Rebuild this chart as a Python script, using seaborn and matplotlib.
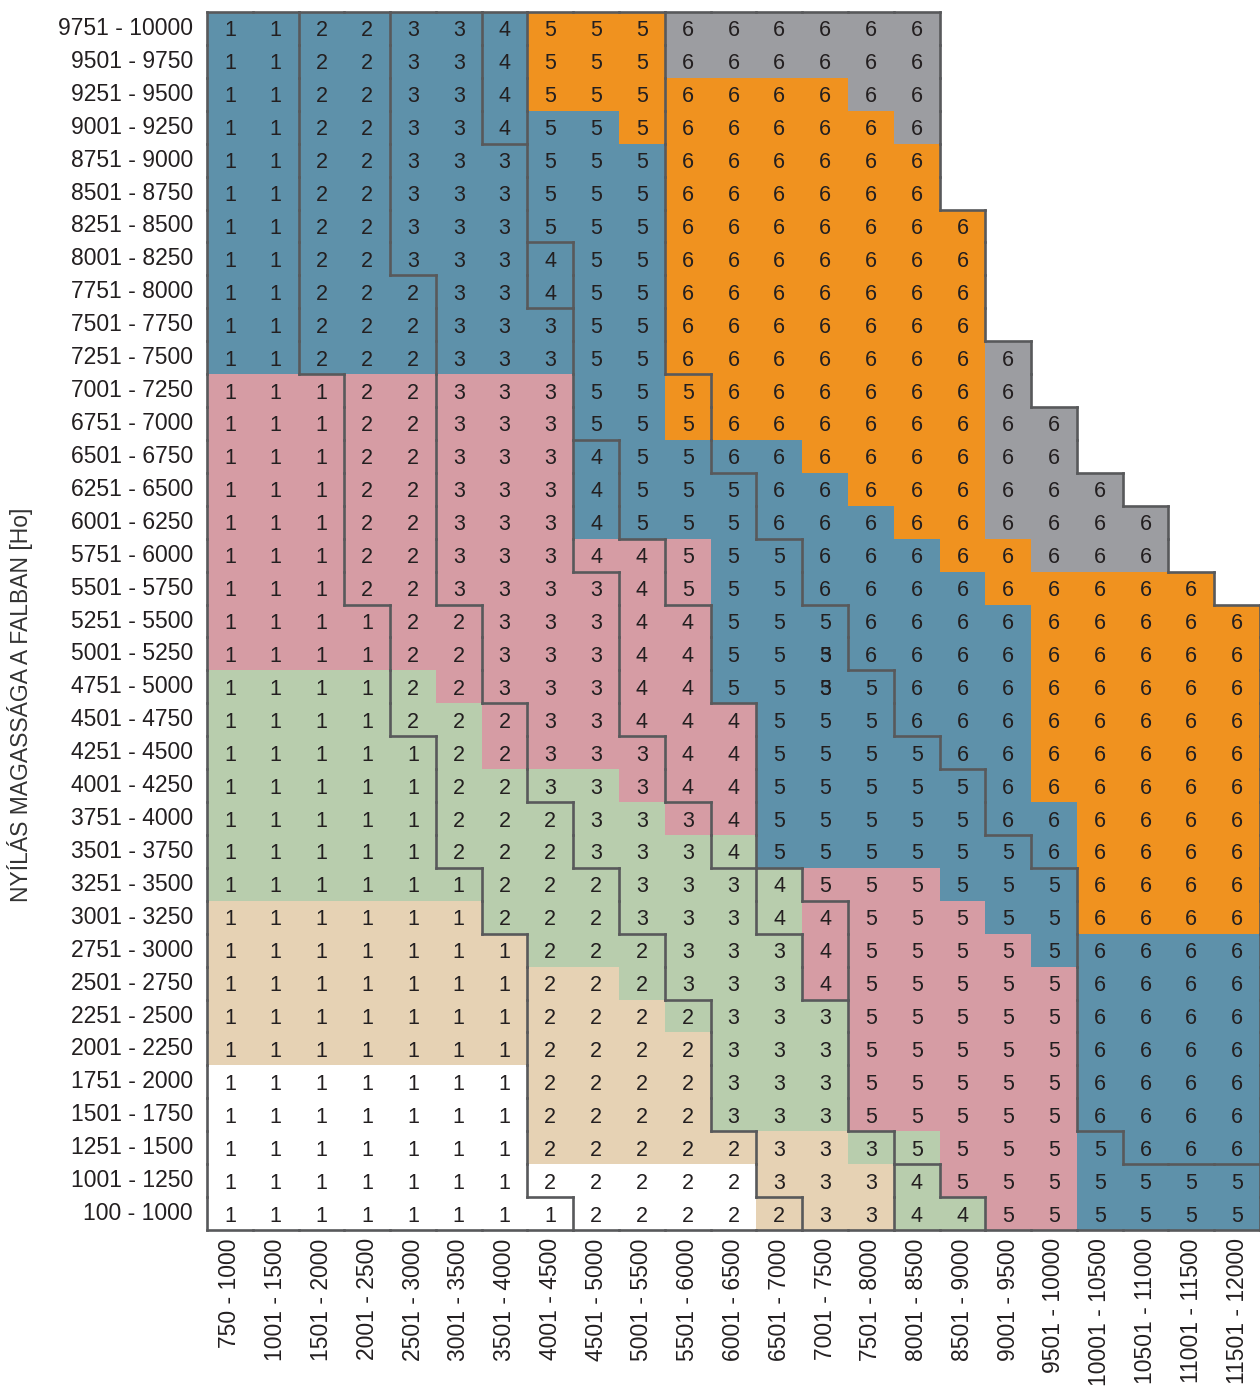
import numpy as np
import pandas as pd
import matplotlib
matplotlib.use("Agg")
import matplotlib.pyplot as plt
import seaborn as sns
from matplotlib.colors import ListedColormap
from matplotlib.collections import LineCollection

# ---------------- data ----------------
row_labels = [
    "9751 - 10000", "9501 - 9750", "9251 - 9500", "9001 - 9250", "8751 - 9000",
    "8501 - 8750", "8251 - 8500", "8001 - 8250", "7751 - 8000", "7501 - 7750",
    "7251 - 7500", "7001 - 7250", "6751 - 7000", "6501 - 6750", "6251 - 6500",
    "6001 - 6250", "5751 - 6000", "5501 - 5750", "5251 - 5500", "5001 - 5250",
    "4751 - 5000", "4501 - 4750", "4251 - 4500", "4001 - 4250", "3751 - 4000",
    "3501 - 3750", "3251 - 3500", "3001 - 3250", "2751 - 3000", "2501 - 2750",
    "2251 - 2500", "2001 - 2250", "1751 - 2000", "1501 - 1750", "1251 - 1500",
    "1001 - 1250", "100 - 1000",
]
col_labels = [
    "750 - 1000", "1001 - 1500", "1501 - 2000", "2001 - 2500", "2501 - 3000",
    "3001 - 3500", "3501 - 4000", "4001 - 4500", "4501 - 5000", "5001 - 5500",
    "5501 - 6000", "6001 - 6500", "6501 - 7000", "7001 - 7500", "7501 - 8000",
    "8001 - 8500", "8501 - 9000", "9001 - 9500", "9501 - 10000", "10001 - 10500",
    "10501 - 11000", "11001 - 11500", "11501 - 12000",
]
# class number per cell (row by row, left to right; shorter rows = empty cells)
class_rows = [
    "1122334555666666",
    "1122334555666666",
    "1122334555666666",
    "1122334555666666",
    "1122333555666666",
    "1122333555666666",
    "11223335556666666",
    "11223334556666666",
    "11222334556666666",
    "11222333556666666",
    "112223335566666666",
    "111223335556666666",
    "1112233355566666666",
    "1112233345566666666",
    "11122333455566666666",
    "111223334555666666666",
    "111223334455566666666",
    "1112233334555666666666",
    "11112233344555666666666",
    "11112233344555666666666",
    "11112233344555566666666",
    "11112223344455566666666",
    "11111223334455556666666",
    "11111223334455555666666",
    "11111222333455555666666",
    "11111222333455555566666",
    "11111122233345555556666",
    "11111122233344555556666",
    "11111112223334555556666",
    "11111112223334555556666",
    "11111112222333555556666",
    "11111112222333555556666",
    "11111112222333555556666",
    "11111112222333555556666",
    "11111112222233355555666",
    "11111112222233345555555",
    "11111111222223344555555",
]
# background zone per cell: W white, E beige, G green, P pink, B blue, O orange, Y grey
zone_rows = [
    "BBBBBBBOOOYYYYYY",
    "BBBBBBBOOOYYYYYY",
    "BBBBBBBOOOOOOOYY",
    "BBBBBBBBBOOOOOOY",
    "BBBBBBBBBBOOOOOO",
    "BBBBBBBBBBOOOOOO",
    "BBBBBBBBBBOOOOOOO",
    "BBBBBBBBBBOOOOOOO",
    "BBBBBBBBBBOOOOOOO",
    "BBBBBBBBBBOOOOOOO",
    "BBBBBBBBBBOOOOOOOY",
    "PPPPPPPPBBOOOOOOOY",
    "PPPPPPPPBBOOOOOOOYY",
    "PPPPPPPPBBBBBOOOOYY",
    "PPPPPPPPBBBBBBOOOYYY",
    "PPPPPPPPBBBBBBBOOYYYY",
    "PPPPPPPPPPPBBBBBOOYYY",
    "PPPPPPPPPPPBBBBBBOOOOO",
    "PPPPPPPPPPPBBBBBBBOOOOO",
    "PPPPPPPPPPPBBBBBBBOOOOO",
    "GGGGGPPPPPPBBBBBBBOOOOO",
    "GGGGGGPPPPPPBBBBBBOOOOO",
    "GGGGGGPPPPPPBBBBBBOOOOO",
    "GGGGGGGGGPPPBBBBBBOOOOO",
    "GGGGGGGGGGPPBBBBBBBOOOO",
    "GGGGGGGGGGGGBBBBBBBOOOO",
    "GGGGGGGGGGGGGPPPBBBOOOO",
    "EEEEEEGGGGGGGPPPPBBOOOO",
    "EEEEEEEGGGGGGPPPPPBBBBB",
    "EEEEEEEEEGGGGPPPPPPBBBB",
    "EEEEEEEEEEGGGGPPPPPBBBB",
    "EEEEEEEEEEEGGGPPPPPBBBB",
    "WWWWWWWEEEEGGGPPPPPBBBB",
    "WWWWWWWEEEEGGGPPPPPBBBB",
    "WWWWWWWEEEEEEEGGPPPBBBB",
    "WWWWWWWWWWWWEEEGPPPBBBB",
    "WWWWWWWWWWWWEEEGGPPBBBB",
]
# cells where a second digit is printed over the first (as in the source)
overlay_marks = [(19, 13, "3"), (20, 13, "3")]

zone_order = ["W", "E", "G", "P", "B", "O", "Y"]
zone_colors = ["#ffffff", "#e6d2b4", "#b8cdad", "#d69ca4", "#5e91aa", "#f0921f", "#9c9da1"]

# ---------------- build arrays ----------------
nr, nc = len(row_labels), len(col_labels)
cls = np.full((nr, nc), np.nan)
zone = np.full((nr, nc), np.nan)
annot = np.full((nr, nc), "", dtype=object)
for r in range(nr):
    assert len(class_rows[r]) == len(zone_rows[r]), r
    for c, (v, z) in enumerate(zip(class_rows[r], zone_rows[r])):
        cls[r, c] = int(v)
        zone[r, c] = zone_order.index(z)
        annot[r, c] = v

zone_df = pd.DataFrame(zone, index=row_labels, columns=col_labels)
mask = np.isnan(zone)

# ---------------- figure ----------------
sns.set_theme(style="white")
plt.rcParams["font.family"] = ["Liberation Sans", "DejaVu Sans"]
text_color = "#231f20"
annot_size = 15.5

fig = plt.figure(figsize=(12.6, 13.87), dpi=100)
ax = fig.add_axes([207 / 1260, 157 / 1387, 1053 / 1260, 1218 / 1387])

sns.heatmap(
    zone_df, mask=mask, cmap=ListedColormap(zone_colors), vmin=-0.5, vmax=len(zone_order) - 0.5,
    cbar=False, annot=annot, fmt="", linewidths=0,
    annot_kws={"fontsize": annot_size, "color": text_color, "va": "center_baseline"},
    xticklabels=col_labels, yticklabels=row_labels, ax=ax,
)

for r, c, t in overlay_marks:
    ax.text(c + 0.5, r + 0.5, t, ha="center", va="center_baseline",
            fontsize=annot_size, color=text_color)

# boundary lines between cells of different class and around the table
segs = []
def val(r, c):
    if 0 <= r < nr and 0 <= c < nc:
        return cls[r, c]
    return np.nan
for r in range(nr):
    for c in range(nc):
        v = cls[r, c]
        if np.isnan(v):
            continue
        right = val(r, c + 1)
        if np.isnan(right) or right != v:
            segs.append([(c + 1, r), (c + 1, r + 1)])
        left = val(r, c - 1)
        if np.isnan(left):
            segs.append([(c, r), (c, r + 1)])
        below = val(r + 1, c)
        if np.isnan(below) or below != v:
            segs.append([(c, r + 1), (c + 1, r + 1)])
        above = val(r - 1, c)
        if np.isnan(above):
            segs.append([(c, r), (c + 1, r)])
lc = LineCollection(segs, colors="#58595b", linewidths=1.9, capstyle="projecting", zorder=4)
lc.set_clip_on(False)
ax.add_collection(lc)

ax.tick_params(axis="both", length=0, labelsize=16.5, colors=text_color)
ax.tick_params(axis="y", pad=10, rotation=0)
ax.tick_params(axis="x", pad=6, rotation=90)
ax.set_xlabel("")
ax.set_ylabel("NYÍLÁS MAGASSÁGA A FALBAN [Ho]", fontsize=16.5, color="#333333")
ax.yaxis.set_label_coords(-0.165, 0.431)
for s in ax.spines.values():
    s.set_visible(False)

fig.savefig("out.png", dpi=100)
